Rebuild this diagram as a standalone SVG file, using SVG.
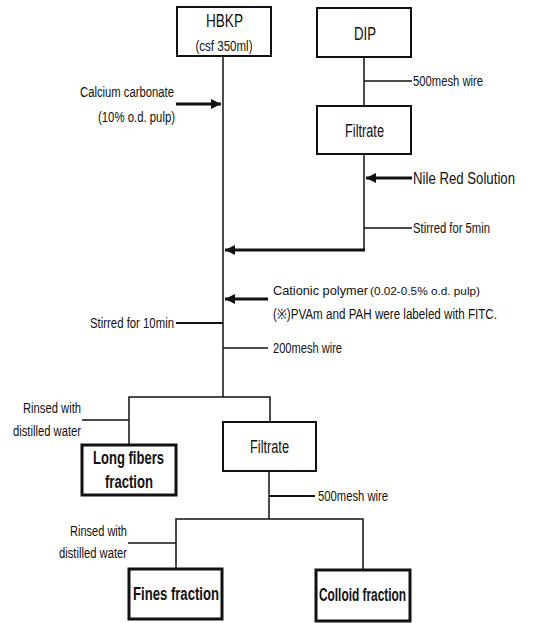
<svg xmlns="http://www.w3.org/2000/svg" width="545" height="623" viewBox="0 0 545 623">
<style>
text{font-family:"Liberation Sans",Arial,sans-serif;fill:#111}
.s{font-size:14px}
.l{font-size:17px}
.h{font-size:18px}
.b{font-size:18px;font-weight:bold}
.box{fill:#fff;stroke:#111;stroke-width:2}
.tbox{fill:#fff;stroke:#111;stroke-width:3}
.thin{stroke:#111;stroke-width:1.5;fill:none}
.thick{stroke:#111;stroke-width:3;fill:none}
.mid{stroke:#111;stroke-width:2;fill:none}
</style>
<defs>
<marker id="ah" markerUnits="userSpaceOnUse" markerWidth="12" markerHeight="12" viewBox="0 0 12 12" refX="10" refY="6" orient="auto">
<path d="M0,1 L10,6 L0,11 Z" fill="#111"/>
</marker>
</defs>
<rect width="545" height="623" fill="#fff"/>
<g id="connectors">
<line class="thin" x1="223" y1="56" x2="223" y2="397"/>
<line class="thin" x1="364" y1="57" x2="364" y2="106"/>
<line class="thin" x1="364" y1="81" x2="412" y2="81"/>
<line class="thick" x1="176" y1="104" x2="221" y2="104" marker-end="url(#ah)"/>
<line class="thin" x1="364" y1="154" x2="364" y2="251"/>
<line class="thick" x1="412" y1="178" x2="366" y2="178" marker-end="url(#ah)"/>
<line class="thin" x1="364" y1="228" x2="412" y2="228"/>
<line class="thick" x1="365" y1="250" x2="225" y2="250" marker-end="url(#ah)"/>
<line class="thick" x1="268" y1="299" x2="225" y2="299" marker-end="url(#ah)"/>
<line class="mid" x1="176" y1="323" x2="223" y2="323"/>
<line class="thin" x1="223" y1="348" x2="268" y2="348"/>
<polyline class="thin" points="129,445 129,397 270,397 270,422"/>
<line class="thin" x1="82" y1="420" x2="129" y2="420"/>
<line class="thin" x1="269" y1="471" x2="269" y2="519"/>
<line class="mid" x1="269" y1="496" x2="315" y2="496"/>
<polyline class="thin" points="176,569 176,519 363,519 363,570"/>
<line class="thin" x1="128" y1="543" x2="176" y2="543"/>
</g>
<g id="hbkp">
<rect class="box" x="177" y="7" width="94" height="49"/>
<text class="h" x="224.5" y="27" text-anchor="middle" textLength="37" lengthAdjust="spacingAndGlyphs">HBKP</text>
<text class="s" x="224" y="50.5" text-anchor="middle" textLength="57" lengthAdjust="spacingAndGlyphs">(csf 350ml)</text>
</g>
<g id="dip">
<rect class="box" x="317" y="8" width="94" height="49"/>
<text class="h" x="365" y="39.5" text-anchor="middle" textLength="22" lengthAdjust="spacingAndGlyphs">DIP</text>
</g>
<g id="filtrate1">
<rect class="box" x="317" y="106" width="94" height="48"/>
<text class="h" x="364.5" y="137" text-anchor="middle" textLength="39" lengthAdjust="spacingAndGlyphs">Filtrate</text>
</g>
<g id="longfibers">
<rect class="tbox" x="82" y="445" width="94" height="50"/>
<text class="b" x="128.5" y="463.5" text-anchor="middle" textLength="71" lengthAdjust="spacingAndGlyphs">Long fibers</text>
<text class="b" x="129" y="488" text-anchor="middle" textLength="48" lengthAdjust="spacingAndGlyphs">fraction</text>
</g>
<g id="filtrate2">
<rect class="box" x="223" y="422" width="93" height="49"/>
<text class="h" x="269.5" y="453" text-anchor="middle" textLength="39" lengthAdjust="spacingAndGlyphs">Filtrate</text>
</g>
<g id="fines">
<rect class="tbox" x="129" y="569" width="93" height="50"/>
<text class="b" x="176" y="599.5" text-anchor="middle" textLength="86" lengthAdjust="spacingAndGlyphs">Fines fraction</text>
</g>
<g id="colloid">
<rect class="tbox" x="316" y="570" width="94" height="51"/>
<text class="b" x="362.5" y="600.5" text-anchor="middle" textLength="87" lengthAdjust="spacingAndGlyphs">Colloid fraction</text>
</g>
<g id="labels">
<text class="s" x="413" y="86" textLength="70" lengthAdjust="spacingAndGlyphs">500mesh wire</text>
<text class="s" x="174" y="97" text-anchor="end" textLength="94" lengthAdjust="spacingAndGlyphs">Calcium carbonate</text>
<text class="s" x="175" y="122" text-anchor="end" textLength="77" lengthAdjust="spacingAndGlyphs">(10% o.d. pulp)</text>
<text class="l" x="413" y="184" textLength="102" lengthAdjust="spacingAndGlyphs">Nile Red Solution</text>
<text class="s" x="413" y="233" textLength="77" lengthAdjust="spacingAndGlyphs">Stirred for 5min</text>
<text x="273" y="294.5" font-size="13" textLength="95" lengthAdjust="spacingAndGlyphs">Cationic polymer</text>
<text x="370" y="294.5" font-size="11.8" textLength="110" lengthAdjust="spacingAndGlyphs">(0.02-0.5% o.d. pulp)</text>
<text class="s" x="273" y="319" textLength="224" lengthAdjust="spacingAndGlyphs">(※)PVAm and PAH were labeled with FITC.</text>
<text class="s" x="174" y="328" text-anchor="end" textLength="84" lengthAdjust="spacingAndGlyphs">Stirred for 10min</text>
<text class="s" x="273" y="353" textLength="69" lengthAdjust="spacingAndGlyphs">200mesh wire</text>
<text class="s" x="81" y="413" text-anchor="end" textLength="58" lengthAdjust="spacingAndGlyphs">Rinsed with</text>
<text class="s" x="81" y="436" text-anchor="end" textLength="68" lengthAdjust="spacingAndGlyphs">distilled water</text>
<text class="s" x="318" y="501" textLength="70" lengthAdjust="spacingAndGlyphs">500mesh wire</text>
<text class="s" x="127" y="536" text-anchor="end" textLength="57" lengthAdjust="spacingAndGlyphs">Rinsed with</text>
<text class="s" x="127" y="558" text-anchor="end" textLength="68" lengthAdjust="spacingAndGlyphs">distilled water</text>
</g>
</svg>
